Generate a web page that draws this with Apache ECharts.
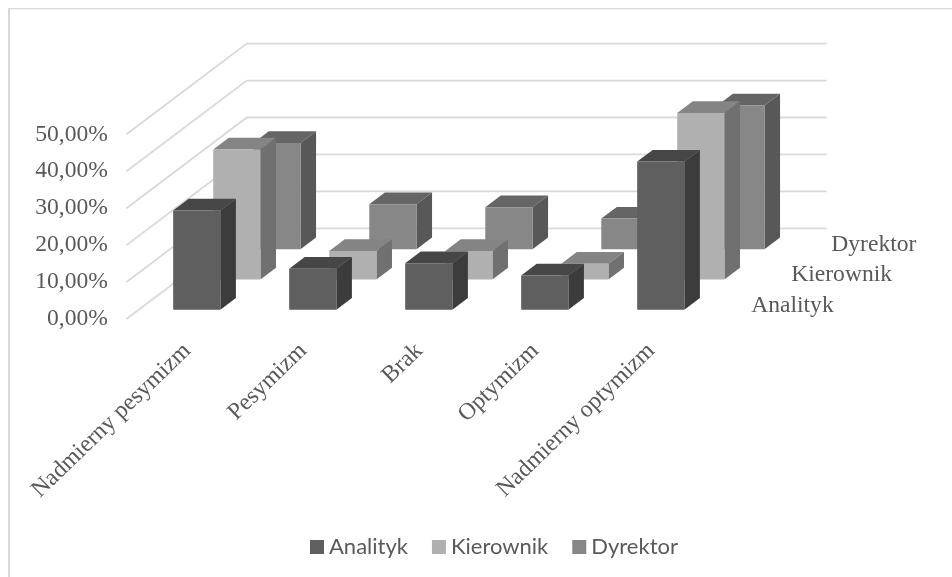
<!DOCTYPE html>
<html>
<head>
<meta charset="utf-8">
<style>html,body{margin:0;padding:0;background:#fff}#chart{width:952px;height:577px}</style>
<script src="https://cdn.jsdelivr.net/npm/echarts@6/dist/echarts.min.js"></script>
</head>
<body>
<div id="chart"></div>
<script>
const categories = ['Nadmierny pesymizm', 'Pesymizm', 'Brak', 'Optymizm', 'Nadmierny optymizm'];
const analityk = [26.9, 11.1, 12.6, 9.3, 40.1];
const kierownik = [35.2, 7.7, 7.7, 4.3, 45.1];
const dyrektor = [28.8, 12.2, 11.4, 8.3, 38.9];
const valueTicks = [0, 10, 20, 30, 40, 50];
const rowNames = ['Analityk', 'Kierownik', 'Dyrektor'];

const SERIF = '"Liberation Serif", "Times New Roman", serif';
const TEXT = '#595959';

// Oblique projection of the depth axis: pixels per full floor depth.
const DEPTH_X = 120.2, DEPTH_Y = -90.7;
const ROWS = 3;
const BAR_WIDTH = 47.2;
const BAR_DEPTH = 0.388; // share of one row taken by a bar

function depthShift(d) {
  return [d * DEPTH_X, d * DEPTH_Y];
}

function box3d(row, palette) {
  return function (params, api) {
    const top = api.coord([api.value(0), api.value(1)]);
    const base = api.coord([api.value(0), 0]);
    const start = (row + (1 - BAR_DEPTH) / 2) / ROWS;
    const s = depthShift(start);
    const e = depthShift(BAR_DEPTH / ROWS);
    const l = top[0] - BAR_WIDTH / 2 + s[0];
    const r = l + BAR_WIDTH;
    const t = top[1] + s[1];
    const b = base[1] + s[1];
    return {
      type: 'group',
      children: [
        { type: 'polygon', shape: { points: [[l, t], [r, t], [r + e[0], t + e[1]], [l + e[0], t + e[1]]] },
          style: { fill: palette.top } },
        { type: 'polygon', shape: { points: [[r, t], [r + e[0], t + e[1]], [r + e[0], b + e[1]], [r, b]] },
          style: { fill: palette.side } },
        { type: 'rect', shape: { x: l, y: t, width: BAR_WIDTH, height: b - t },
          style: { fill: palette.front } }
      ]
    };
  };
}

function rowSeries(name, values, row, palette) {
  return {
    name: name,
    type: 'custom',
    coordinateSystem: 'cartesian2d',
    z: 10 - row,
    itemStyle: { color: palette.front },
    encode: { x: 0, y: 1 },
    data: values.map((v, i) => [i, v]),
    renderItem: box3d(row, palette),
    silent: true
  };
}

// Side wall and back wall gridlines.
function renderWalls(params, api) {
  const y = api.coord([0, api.value(0)])[1];
  const sys = params.coordSys;
  const d = depthShift(1);
  return {
    type: 'polyline',
    shape: { points: [[sys.x, y], [sys.x + d[0], y + d[1]], [sys.x + sys.width + d[0], y + d[1]]] },
    style: { fill: null, stroke: '#d9d9d9', lineWidth: 1.8 }
  };
}

// Names along the depth axis, right of the floor.
function renderDepthLabels(params, api) {
  const sys = params.coordSys;
  const row = api.value(0);
  const s = depthShift((row + 0.5) / ROWS);
  return {
    type: 'text',
    style: {
      x: sys.x + sys.width + 24.6 + s[0],
      y: sys.y + sys.height + s[1] + 1.5,
      text: rowNames[row],
      fill: TEXT,
      font: '23.6px ' + SERIF,
      align: 'left',
      verticalAlign: 'middle'
    }
  };
}

const chart = echarts.init(document.getElementById('chart'), null, { renderer: 'canvas' });
chart.setOption({
  animation: false,
  backgroundColor: '#ffffff',
  // Chart frame: its right and bottom edges fall outside the page.
  graphic: [
    { type: 'rect', shape: { x: 8, y: 8, width: 2, height: 600 }, style: { fill: '#d9d9d9' }, silent: true, z: 0 },
    { type: 'rect', shape: { x: 8, y: 8, width: 960, height: 1.2 }, style: { fill: '#d9d9d9' }, silent: true, z: 0 }
  ],
  grid: { left: 126.5, top: 134.3, width: 580, height: 184.7 },
  legend: {
    data: rowNames,
    left: 310,
    top: 536,
    padding: 0,
    icon: 'rect',
    itemWidth: 14,
    itemHeight: 14,
    itemGap: 24,
    selectedMode: false,
    textStyle: { fontFamily: 'Lato, Carlito, sans-serif', fontSize: 22, color: TEXT }
  },
  xAxis: {
    type: 'category',
    data: categories,
    axisLine: { show: false },
    axisTick: { show: false },
    axisLabel: {
      rotate: 44,
      interval: 0,
      margin: 25.5,
      align: 'right',
      verticalAlign: 'top',
      lineHeight: 8,
      fontFamily: SERIF,
      fontSize: 23.8,
      color: TEXT
    }
  },
  yAxis: {
    type: 'value',
    min: 0,
    max: 50,
    interval: 10,
    axisLine: { show: false },
    axisTick: { show: false },
    splitLine: { show: false },
    axisLabel: {
      margin: 18.5,
      fontFamily: SERIF,
      fontSize: 23.6,
      color: TEXT,
      formatter: v => v.toFixed(2).replace('.', ',') + '%'
    }
  },
  series: [
    rowSeries('Analityk', analityk, 0, { front: '#5f5f5f', top: '#464646', side: '#3c3c3c' }),
    rowSeries('Kierownik', kierownik, 1, { front: '#b0b0b0', top: '#848484', side: '#707070' }),
    rowSeries('Dyrektor', dyrektor, 2, { front: '#878787', top: '#656565', side: '#585858' }),
    {
      type: 'custom',
      name: 'walls',
      z: 1,
      silent: true,
      encode: { y: 0 },
      data: valueTicks.map(v => [v]),
      renderItem: renderWalls
    },
    {
      type: 'custom',
      name: 'depth',
      z: 1,
      silent: true,
      encode: { y: 0 },
      data: rowNames.map((n, i) => [i]),
      renderItem: renderDepthLabels
    }
  ]
});
</script>
</body>
</html>
